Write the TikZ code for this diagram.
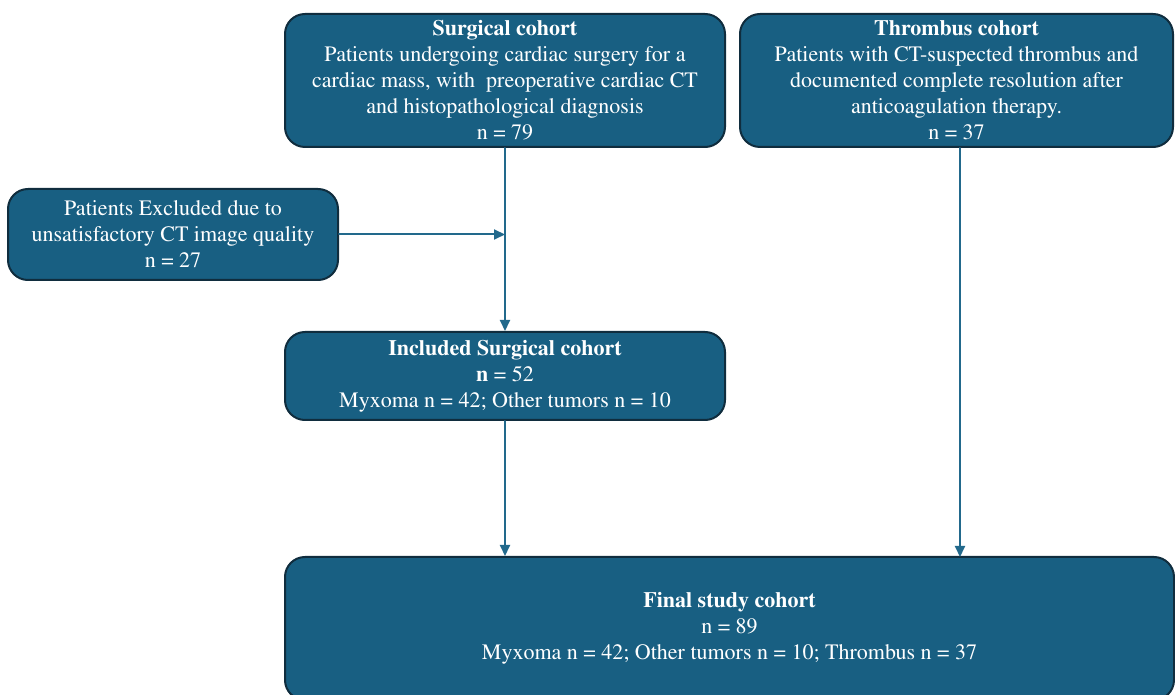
\documentclass[tikz,border=0pt]{standalone}
\usepackage[T1]{fontenc}
\usepackage{mathptmx}
\usetikzlibrary{arrows.meta}
\definecolor{boxfill}{RGB}{24,95,130}
\definecolor{boxedge}{RGB}{16,45,62}
\definecolor{flowline}{RGB}{34,105,140}
\tikzset{
  cohort/.style={draw=boxedge, line width=1pt, fill=boxfill, rounded corners=10pt,
    text=white, align=center, inner sep=2pt,
    font=\fontsize{11}{13}\selectfont},
  flow/.style={draw=flowline, line width=1pt, -{Triangle[length=5.5pt,width=5pt]}}
}
\begin{document}
\begin{tikzpicture}[x=0.5pt, y=-0.5pt, line cap=round]
  \useasboundingbox (0, 0) rectangle (1175, 695);
  \clip (0, 0) rectangle (1175, 695);
  % Source cohorts.
  \node[cohort, minimum width=220pt, minimum height=66.5pt] (surg) at (505, 80.5)
    {\textbf{Surgical cohort}\\Patients undergoing cardiac surgery for a\\
     cardiac mass, with\ \ preoperative cardiac CT\\and histopathological diagnosis\\n = 79};
  \node[cohort, minimum width=216.5pt, minimum height=66.5pt] (thromb) at (956.5, 80.5)
    {\textbf{Thrombus cohort}\\Patients with CT-suspected thrombus and\\
     documented complete resolution after\\anticoagulation therapy.\\n = 37};
  % Exclusion.
  \node[cohort, minimum width=165pt, minimum height=45.5pt] (excl) at (173, 234.5)
    {Patients Excluded due to\\unsatisfactory CT image quality\\n = 27};
  % Included and final cohorts.
  \node[cohort, minimum width=220pt, minimum height=44pt] (incl) at (505, 376)
    {\textbf{Included Surgical cohort}\\\textbf{n} = 52\\Myxoma n = 42; Other tumors n = 10};
  \node[cohort, minimum width=444.5pt, minimum height=71.5pt] (final) at (729.5, 628.5)
    {\textbf{Final study cohort}\\n = 89\\Myxoma n = 42; Other tumors n = 10; Thrombus n = 37};
  % Connectors.
  \coordinate (join) at (excl.east -| surg.south);
  \draw[flow] (surg.south) -- (incl.north);
  \draw[flow] (excl.east) -- (join);
  \draw[flow] (incl.south) -- (incl.south |- final.north);
  \draw[flow] (thromb.south -| 960, 0) -- (960, 557);
\end{tikzpicture}
\end{document}
